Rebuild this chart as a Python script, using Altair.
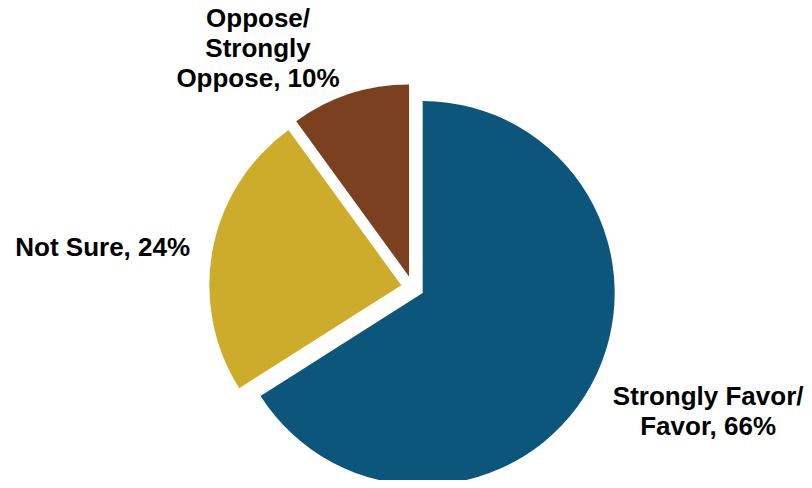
import altair as alt
import pandas as pd

# ---- data ----
categories = ["Strongly Favor/ Favor", "Not Sure", "Oppose/ Strongly Oppose"]
values = [66, 24, 10]
labels = ["Strongly Favor/\nFavor, 66%", "Not Sure, 24%", "Oppose/\nStrongly\nOppose, 10%"]
colors = ["#0B567A", "#CDAC2C", "#7B4020"]
order = [0, 1, 2]

# ---- layout / style ----
CX, CY = 404.6, 279.5      # pie centre inside the view
EXPLODE = 11.5             # explode distance of every slice
RADIUS = 192
LABEL_R = 230
FONT = "Liberation Sans"

df = pd.DataFrame({"cat": categories, "value": values, "label": labels, "ord": order})

base = (
    alt.Chart(df)
    .transform_joinaggregate(total="sum(value)")
    .transform_window(cum="sum(value)", sort=[alt.SortField("ord")])
    .transform_calculate(
        start="(datum.cum - datum.value) / datum.total",
        end="datum.cum / datum.total",
    )
    .transform_calculate(mid="(datum.start + datum.end) * PI")
    .transform_calculate(
        px=f"{CX} + {EXPLODE} * sin(datum.mid)",
        py=f"{CY} - {EXPLODE} * cos(datum.mid)",
        lx=f"{CX} + {LABEL_R} * sin(datum.mid)",
        ly=f"{CY} - {LABEL_R} * cos(datum.mid)",
    )
)

pie = base.mark_arc(outerRadius=RADIUS).encode(
    theta=alt.Theta("start:Q", scale=alt.Scale(domain=[0, 1], range=[0, 6.283185307179586])),
    theta2="end:Q",
    x=alt.X("px:Q", scale=None),
    y=alt.Y("py:Q", scale=None),
    color=alt.Color("cat:N", scale=alt.Scale(domain=categories, range=colors), legend=None),
)

def label_layer(cat, dx, dy):
    return (
        base.transform_filter(alt.datum.cat == cat)
        .mark_text(
            font=FONT, fontSize=26, fontWeight="bold", color="#000000",
            align="center", baseline="middle", lineBreak="\n", lineHeight=30,
            dx=dx, dy=dy,
        )
        .encode(
            x=alt.X("lx:Q", scale=None),
            y=alt.Y("ly:Q", scale=None),
            text="label:N",
        )
    )

chart = (
    alt.layer(
        pie,
        label_layer(categories[0], 94, -1),
        label_layer(categories[1], -84, 3.5),
        label_layer(categories[2], -83.5, -50),
    )
    .properties(width=796, height=472, autosize="none", padding=0, background="white")
    .configure_view(stroke=None)
)

chart.save("out.html", embed_options={"renderer": "svg", "actions": False})
